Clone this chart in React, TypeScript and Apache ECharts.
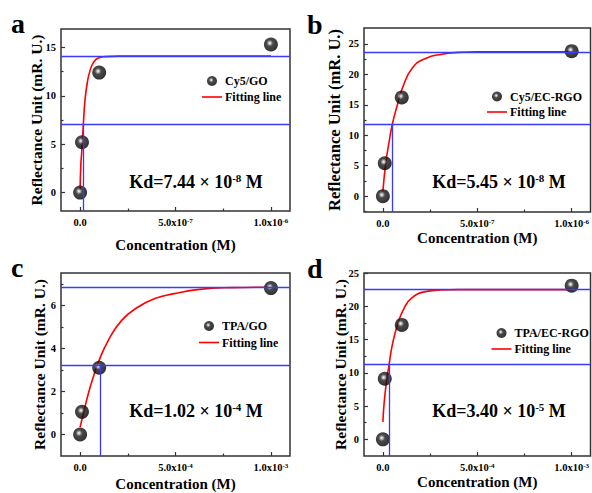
import React, { useEffect, useRef } from "react";
import * as echarts from "echarts";

const SERIF = "'Liberation Serif', 'Times New Roman', serif";

// ---------- data ----------
const panelLetters = ["a", "b", "c", "d"];
const sampleNames = ["Cy5/GO", "Cy5/EC-RGO", "TPA/GO", "TPA/EC-RGO"];
const kdMantissas = ["7.44", "5.45", "1.02", "3.40"];
const kdExponents = ["-8", "-8", "-4", "-5"];

const concA = [0, 1e-8, 1e-7, 1e-6];
const signalA = [0, 5.2, 12.4, 15.3];
const fitConcA = [0, 0.4e-8, 0.9e-8, 1.7e-8, 2.6e-8, 3.8e-8, 5.2e-8, 6.9e-8, 9.5e-8, 1.3e-7, 2e-7, 1e-6];
const fitSignalA = [0.3, 2.9, 4.3, 7.0, 9.6, 11.4, 12.6, 13.4, 13.9, 14.05, 14.1, 14.1];
const refA = { plateau: 14.1, half: 7.05, kd: 1.7e-8 };

const concB = [0, 1e-8, 1e-7, 1e-6];
const signalB = [0, 5.4, 16.2, 23.8];
const fitConcB = [0, 1.6e-8, 3.3e-8, 5.0e-8, 7.7e-8, 1.03e-7, 1.55e-7, 2.26e-7, 3.13e-7, 4.0e-7, 5e-7, 1e-6];
const fitSignalB = [0.8, 5.6, 8.9, 11.8, 15.0, 17.7, 21.0, 22.6, 23.3, 23.6, 23.7, 23.7];
const refB = { plateau: 23.7, half: 11.85, kd: 5.2e-8 };

const concC = [0, 1e-5, 1e-4, 1e-3];
const signalC = [0, 1.05, 3.1, 6.8];
const fitConcC = [0, 1.7e-5, 4.3e-5, 6.9e-5, 9.6e-5, 1.48e-4, 2.18e-4, 3.04e-4, 3.91e-4, 4.87e-4, 6.26e-4, 8e-4, 1e-3];
const fitSignalC = [0.34, 0.96, 1.89, 2.67, 3.36, 4.37, 5.3, 5.92, 6.31, 6.53, 6.74, 6.82, 6.84];
const refC = { plateau: 6.84, half: 3.22, kd: 1.04e-4 };

const concD = [0, 1e-5, 1e-4, 1e-3];
const signalD = [0, 9.1, 17.2, 23.1];
const fitConcD = [0, 0.7e-5, 1.9e-5, 3.3e-5, 5.0e-5, 7.7e-5, 1.12e-4, 1.55e-4, 2.26e-4, 3.13e-4, 4e-4, 1e-3];
const fitSignalD = [2.6, 5.6, 8.6, 11.25, 14.2, 17.2, 19.7, 21.3, 22.2, 22.45, 22.5, 22.5];
const refD = { plateau: 22.5, half: 11.25, kd: 3.5e-5 };

const xTickBases = ["0.0", "5.0x10", "1.0x10"];
const xTicksAB = [0, 5e-7, 1e-6];
const xMinorAB = [2.5e-7, 7.5e-7];
const xExpsAB = ["", "-7", "-6"];
const xTicksCD = [0, 5e-4, 1e-3];
const xMinorCD = [2.5e-4, 7.5e-4];
const xExpsCD = ["", "-4", "-3"];

const yTicksA = [0, 5, 10, 15];
const yMinorA = [2.5, 7.5, 12.5];
const yTicksB = [0, 5, 10, 15, 20, 25];
const yMinorB = [-2.5, 2.5, 7.5, 12.5, 17.5, 22.5];
const yTicksC = [0, 2, 4, 6];
const yMinorC = [1, 3, 5, 7];
const yTicksD = [0, 5, 10, 15, 20, 25];
const yMinorD = [2.5, 7.5, 12.5, 17.5, 22.5];

const xTitle = "Concentration (M)";
const yTitle = "Reflectance Unit (mR. U.)";
const fitName = "Fitting line";

// ---------- layout ----------
const panels = [
  {
    conc: concA, signal: signalA, fitX: fitConcA, fitY: fitSignalA, ref: refA,
    xTicks: xTicksAB, xMinor: xMinorAB, xExps: xExpsAB, yTicks: yTicksA, yMinor: yMinorA,
    xMin: -1e-7, xMax: 1.1e-6, yMin: -1.9, yMax: 16.9,
    grid: { left: 61, top: 29, width: 229, height: 182 },
    xGap: 26, yGap: 17, yTitleSize: 15.5,
    legend: { left: 202, top: 75, gap: 4 },
    kdPos: [196, 182], letterPos: [11, 9],
  },
  {
    conc: concB, signal: signalB, fitX: fitConcB, fitY: fitSignalB, ref: refB,
    xTicks: xTicksAB, xMinor: xMinorAB, xExps: xExpsAB, yTicks: yTicksB, yMinor: yMinorB,
    xMin: -1e-7, xMax: 1.1e-6, yMin: -2.6, yMax: 27.6,
    grid: { left: 364, top: 28, width: 229, height: 184 },
    xGap: 18.5, yGap: 21, yTitleSize: 16.5,
    legend: { left: 487, top: 90.5, gap: 3.5 },
    kdPos: [499, 182], letterPos: [307, 10],
  },
  {
    conc: concC, signal: signalC, fitX: fitConcC, fitY: fitSignalC, ref: refC,
    xTicks: xTicksCD, xMinor: xMinorCD, xExps: xExpsCD, yTicks: yTicksC, yMinor: yMinorC,
    xMin: -1e-4, xMax: 1.1e-3, yMin: -1, yMax: 7.5,
    grid: { left: 61, top: 273, width: 229, height: 183 },
    xGap: 20.5, yGap: 14, yTitleSize: 15.5,
    legend: { left: 199, top: 320, gap: 4.5 },
    kdPos: [196, 411], letterPos: [11, 253],
  },
  {
    conc: concD, signal: signalD, fitX: fitConcD, fitY: fitSignalD, ref: refD,
    xTicks: xTicksCD, xMinor: xMinorCD, xExps: xExpsCD, yTicks: yTicksD, yMinor: yMinorD,
    xMin: -1e-4, xMax: 1.1e-3, yMin: -2.5, yMax: 25,
    grid: { left: 364, top: 273, width: 229, height: 183 },
    xGap: 18.5, yGap: 16, yTitleSize: 15.5,
    legend: { left: 491.5, top: 327, gap: 4 },
    kdPos: [499, 411], letterPos: [307, 254],
  },
];

const zip = (a: number[], b: number[]) => a.map((v, i) => [v, b[i]]);

const sphere = () =>
  new echarts.graphic.RadialGradient(0.42, 0.4, 0.6, [
    { offset: 0, color: "#ffffff" },
    { offset: 0.14, color: "#b0b0b0" },
    { offset: 0.38, color: "#1c1c1c" },
    { offset: 1, color: "#000000" },
  ]);

const tickLabelRich = {
  b: { fontFamily: SERIF, fontWeight: "bold", fontSize: 10.5, color: "#000", lineHeight: 11 },
  s: { fontFamily: SERIF, fontWeight: "bold", fontSize: 7, color: "#000", verticalAlign: "top", lineHeight: 8 },
};

const LINE_ICON = "path://M0,0 L20,0 L20,1.6 L0,1.6 Z";

function buildOption() {
  const grid: any[] = [];
  const xAxis: any[] = [];
  const yAxis: any[] = [];
  const series: any[] = [];
  const legend: any[] = [];
  const graphic: any[] = [];

  panels.forEach((p, i) => {
    grid.push({ ...p.grid, show: true, borderColor: "#333", borderWidth: 1.5, backgroundColor: "transparent" });
    const near = (t: number, v: number) => Math.abs(t - v) <= Math.abs(t) * 1e-6 + 1e-15;
    const tickStyle = { color: "#333", width: 1.2 };
    xAxis.push({
      gridIndex: i, type: "value", min: p.xMin, max: p.xMax, position: "bottom",
      axisLine: { show: false, onZero: false },
      axisTick: { show: true, inside: true, length: 4, customValues: p.xTicks, lineStyle: tickStyle },
      axisLabel: {
        show: true, margin: 6, customValues: p.xTicks, rich: tickLabelRich,
        formatter: (v: number) => {
          const k = p.xTicks.findIndex((t) => near(t, v));
          if (k < 0) return "";
          return p.xExps[k] ? `{b|${xTickBases[k]}}{s|${p.xExps[k]}}` : `{b|${xTickBases[k]}}`;
        },
      },
      splitLine: { show: false },
      name: xTitle, nameLocation: "middle", nameGap: p.xGap, nameMoveOverlap: false,
      nameTextStyle: { fontFamily: SERIF, fontWeight: "bold", fontSize: 15, color: "#000" },
    });
    xAxis.push({
      gridIndex: i, type: "value", min: p.xMin, max: p.xMax, position: "bottom",
      axisLine: { show: false, onZero: false },
      axisTick: { show: true, inside: true, length: 2.5, customValues: p.xMinor, lineStyle: tickStyle },
      axisLabel: { show: false }, splitLine: { show: false },
    });
    yAxis.push({
      gridIndex: i, type: "value", min: p.yMin, max: p.yMax, position: "left",
      axisLine: { show: false, onZero: false },
      axisTick: { show: true, inside: true, length: 4, customValues: p.yTicks, lineStyle: tickStyle },
      axisLabel: { show: true, margin: 5, customValues: p.yTicks, fontFamily: SERIF, fontWeight: "bold", fontSize: 10.5, color: "#000" },
      splitLine: { show: false },
      name: yTitle, nameLocation: "middle", nameGap: p.yGap, nameMoveOverlap: false,
      nameTextStyle: { fontFamily: SERIF, fontWeight: "bold", fontSize: p.yTitleSize, color: "#000" },
    });
    yAxis.push({
      gridIndex: i, type: "value", min: p.yMin, max: p.yMax, position: "left",
      axisLine: { show: false, onZero: false },
      axisTick: { show: true, inside: true, length: 2.5, customValues: p.yMinor, lineStyle: tickStyle },
      axisLabel: { show: false }, splitLine: { show: false },
    });

    const xi = 2 * i;
    series.push({
      type: "line", name: "ref" + i, xAxisIndex: xi, yAxisIndex: xi,
      data: zip(p.fitX, p.fitY), symbol: "none", lineStyle: { opacity: 0 }, z: 1,
      markLine: {
        silent: true, symbol: "none", label: { show: false },
        lineStyle: { color: "#3a3aff", width: 1.3, type: "solid" },
        data: [
          { yAxis: p.ref.plateau },
          { yAxis: p.ref.half },
          [{ coord: [p.ref.kd, p.yMin] }, { coord: [p.ref.kd, p.ref.half] }],
        ],
      },
    });
    series.push({
      type: "line", name: fitName, xAxisIndex: xi, yAxisIndex: xi,
      data: zip(p.fitX, p.fitY), symbol: "none", smooth: 0.5,
      lineStyle: { color: "#ff0000", width: 1.6 }, itemStyle: { color: "#ff0000" }, z: 3,
    });
    series.push({
      type: "scatter", name: sampleNames[i], xAxisIndex: xi, yAxisIndex: xi,
      data: zip(p.conc, p.signal), symbol: "circle", symbolSize: 14,
      itemStyle: { color: sphere() }, z: 4,
    });

    legend.push({
      left: p.legend.left, top: p.legend.top, orient: "vertical", padding: 0,
      itemWidth: 20, itemHeight: 10, itemGap: p.legend.gap,
      textStyle: { fontFamily: SERIF, fontWeight: "bold", fontSize: 12, color: "#000", padding: [0, 0, 0, -2] },
      data: [
        { name: sampleNames[i], icon: "circle", itemStyle: { color: sphere() } },
        { name: fitName, icon: LINE_ICON, itemStyle: { color: "#ff0000" } },
      ],
      selectedMode: false,
    });

    graphic.push({
      type: "text", left: p.letterPos[0], top: p.letterPos[1],
      style: { text: panelLetters[i], fontFamily: SERIF, fontWeight: "bold", fontSize: 28, fill: "#000" },
    });
    graphic.push({
      type: "text", x: p.kdPos[0], y: p.kdPos[1],
      style: {
        text: `{k|Kd=${kdMantissas[i]} × 10}{s|${kdExponents[i]}}{k| M}`,
        align: "center", verticalAlign: "middle",
        rich: {
          k: { fontFamily: SERIF, fontWeight: "bold", fontSize: 18, fill: "#000", lineHeight: 20 },
          s: { fontFamily: SERIF, fontWeight: "bold", fontSize: 11, fill: "#000", verticalAlign: "top", lineHeight: 11 },
        },
      },
    });
  });

  return { animation: false, backgroundColor: "#fff", grid, xAxis, yAxis, series, legend, graphic };
}

export default function App() {
  const ref = useRef<HTMLDivElement>(null);
  useEffect(() => {
    document.body.style.margin = "0";
    if (!ref.current) return;
    const chart = echarts.init(ref.current, undefined, { renderer: "svg" });
    chart.setOption(buildOption() as any);
    return () => chart.dispose();
  }, []);
  return <div ref={ref} style={{ width: 592, height: 493 }} />;
}
